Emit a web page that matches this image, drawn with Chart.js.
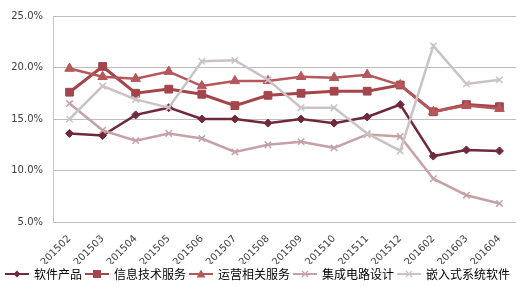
<!DOCTYPE html>
<html>
<head>
<meta charset="utf-8">
<script src="https://cdn.jsdelivr.net/npm/chart.js@4/dist/chart.umd.min.js"></script>
<style>
html,body{margin:0;padding:0;background:#fff;}
#wrap{width:530px;height:287px;position:relative;}
</style>
</head>
<body>
<div id="wrap"><canvas id="c" width="530" height="287"></canvas></div>
<script>
const categories = ['201502','201503','201504','201505','201506','201507','201508','201509','201510','201511','201512','201602','201603','201604'];
const seriesNames = ['软件产品','信息技术服务','运营相关服务','集成电路设计','嵌入式系统软件'];
const software = [13.6,13.4,15.4,16.1,15.0,15.0,14.6,15.0,14.6,15.2,16.4,11.4,12.0,11.9];
const itService = [17.6,20.1,17.5,17.9,17.4,16.3,17.3,17.5,17.7,17.7,18.3,15.7,16.4,16.2];
const operation = [19.9,19.1,18.9,19.6,18.2,18.7,18.7,19.1,19.0,19.3,18.3,15.7,16.3,16.0];
const icDesign = [16.5,13.9,12.9,13.6,13.1,11.8,12.5,12.8,12.2,13.5,13.3,9.2,7.6,6.8];
const embedded = [15.0,18.2,16.9,16.1,20.6,20.7,18.8,16.1,16.1,13.6,11.9,22.1,18.4,18.8];
const yTicks = [5,10,15,20,25];

const colors = ['#6E2A3A','#A3454B','#B4585C','#C6A2A7','#CBC3C3'];
const styles = ['rectRot','rect','triangle','crossRot','crossRot'];
const radii = [4,5.5,5.5,4.5,4.5];
const widths = [2.5,3,2.5,2.5,2.5];
const values = [software,itService,operation,icDesign,embedded];

function legendImg(i){
  const cv = document.createElement('canvas');
  cv.width = 24; cv.height = 12;
  const g = cv.getContext('2d');
  g.strokeStyle = colors[i]; g.fillStyle = colors[i];
  g.lineWidth = 2;
  g.beginPath(); g.moveTo(0,6); g.lineTo(24,6); g.stroke();
  const s = styles[i], cx = 12, cy = 6;
  if (s === 'rectRot'){ g.beginPath(); g.moveTo(cx,cy-3.5); g.lineTo(cx+3.5,cy); g.lineTo(cx,cy+3.5); g.lineTo(cx-3.5,cy); g.closePath(); g.fill(); }
  else if (s === 'rect'){ g.fillRect(cx-4,cy-4,8,8); }
  else if (s === 'triangle'){ g.beginPath(); g.moveTo(cx,cy-4.5); g.lineTo(cx+4.5,cy+3.5); g.lineTo(cx-4.5,cy+3.5); g.closePath(); g.fill(); }
  else { g.lineWidth=1.2; g.beginPath(); g.moveTo(cx-3,cy-3); g.lineTo(cx+3,cy+3); g.moveTo(cx+3,cy-3); g.lineTo(cx-3,cy+3); g.stroke(); }
  return cv;
}

const datasets = seriesNames.map((n,i)=>({
  label: n,
  data: values[i],
  borderColor: colors[i],
  backgroundColor: colors[i],
  borderWidth: widths[i],
  pointStyle: styles[i],
  pointRadius: radii[i],
  pointBorderWidth: styles[i]==='crossRot' ? 1.5 : 1,
  pointBorderColor: colors[i],
  pointBackgroundColor: colors[i],
  tension: 0,
  order: -i,
  fill: false
}));

new Chart(document.getElementById('c'), {
  type: 'line',
  data: { labels: categories, datasets },
  options: {
    responsive: false,
    animation: false,
    devicePixelRatio: 1,
    layout: { padding: { left: 0, right: 14, top: 13, bottom: -3 } },
    plugins: {
      tooltip: { enabled: false },
      legend: {
        position: 'bottom',
        labels: {
          usePointStyle: true,
          pointStyleWidth: 22,
          padding: 4,
          color: '#333333',
          font: { family: '"Noto Sans CJK SC", sans-serif', size: 12 },
          sort: (a,b) => a.datasetIndex - b.datasetIndex,
          generateLabels: (chart) => chart.data.datasets.map((d,i)=>({
            text: d.label,
            pointStyle: legendImg(i),
            fillStyle: colors[i],
            strokeStyle: colors[i],
            lineWidth: 0,
            datasetIndex: i,
            hidden: false
          }))
        }
      }
    },
    scales: {
      x: {
        offset: true,
        grid: { display: false, drawTicks: false },
        border: { display: false },
        ticks: {
          autoSkip: false, minRotation: 45, maxRotation: 45,
          color: '#404040', padding: 11,
          font: { family: '"DejaVu Sans", sans-serif', size: 10 }
        },
        afterFit: (s) => { s.height = 42; }
      },
      y: {
        min: 5, max: 25,
        afterBuildTicks: (s) => { s.ticks = yTicks.map(v=>({value:v})); },
        grid: { color: '#BDBDBD', lineWidth: 1, drawTicks: false },
        border: { display: true, color: '#C8C8C8' },
        ticks: {
          color: '#404040', padding: 10,
          font: { family: '"DejaVu Sans", sans-serif', size: 10 },
          callback: (v) => v.toFixed(1) + '%'
        },
        afterFit: (s) => { s.width = 53; }
      }
    }
  }
});
</script>
</body>
</html>
